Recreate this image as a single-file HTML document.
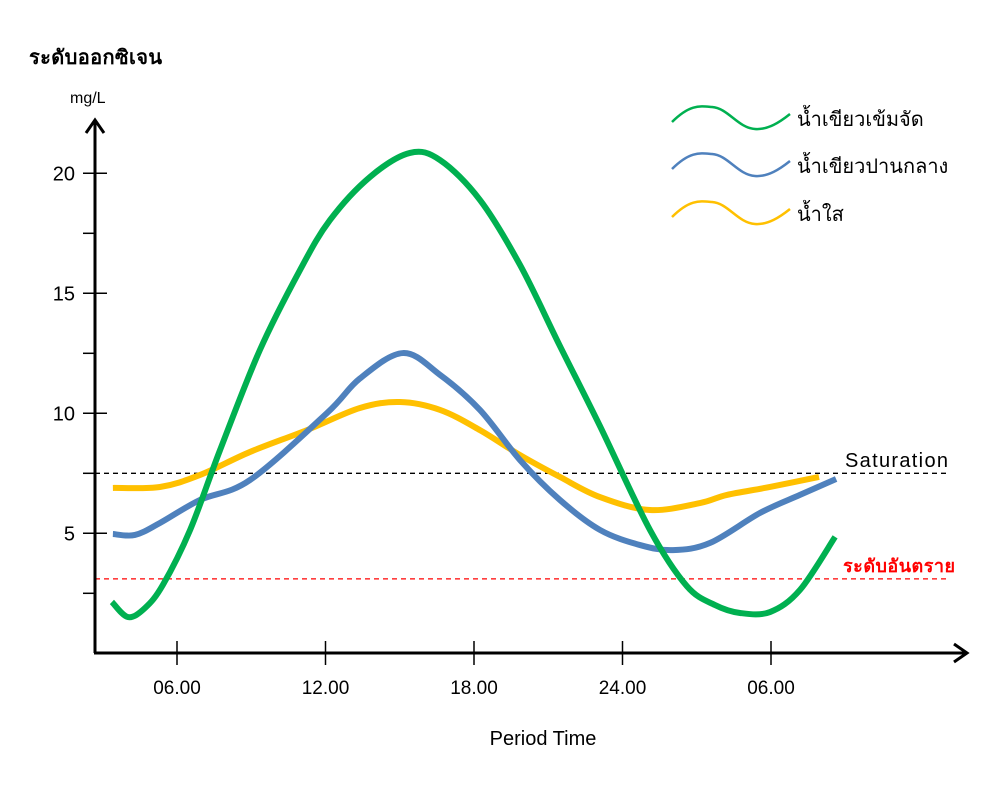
<!DOCTYPE html>
<html><head><meta charset="utf-8"><style>
html,body{margin:0;padding:0;background:#fff;}
svg{display:block;font-family:"Liberation Sans","Noto Sans CJK SC",sans-serif;}
</style></head><body>
<svg id="chart" width="1000" height="786" viewBox="0 0 1000 786">
<g id="axes"></g>
<g id="series"></g>
<g id="legend"></g>
</svg>
<script>
const yTicks = [5, 10, 15, 20];
const yMinorTicks = [2.5, 7.5, 12.5, 17.5];
const xTickHours = [6, 12, 18, 24, 30];
const xTickLabels = ["06.00", "12.00", "18.00", "24.00", "06.00"];
const greenT = [3.37,4.02,4.71,5.43,6.53,7.74,9.35,10.97,12.18,13.8,15.41,16.63,18.24,19.86,21.45,23.07,25.11,26.6,27.74,28.75,29.96,31.17,32.59];
const greenV = [2.14,1.51,1.89,2.85,5.14,8.47,12.64,15.97,18.05,19.85,20.85,20.55,18.89,16.18,12.85,9.51,5.14,2.8,2.01,1.68,1.72,2.64,4.85];
const blueT = [3.41,4.30,5.31,6.93,8.95,12.06,13.39,15.13,16.63,18.24,19.86,21.47,23.09,24.71,26.04,27.54,29.56,31.17,32.63];
const blueV = [4.97,4.93,5.43,6.39,7.22,10.01,11.45,12.51,11.6,10.14,8.05,6.39,5.14,4.51,4.30,4.60,5.85,6.6,7.26];
const yellowT = [3.41,5.31,6.93,8.95,11.25,13.39,15.01,16.63,18.24,19.86,21.47,23.09,25.11,27.13,28.22,29.96,31.94];
const yellowV = [6.89,6.93,7.43,8.39,9.3,10.22,10.47,10.14,9.3,8.26,7.35,6.51,5.97,6.26,6.6,6.93,7.35];
const saturationLevel = 7.5;
const dangerLevel = 3.1;

const NS = "http://www.w3.org/2000/svg";
function xs(t){ return 177 + (t - 6) * 24.75; }
function ys(v){ return 653.3 - v * 24; }
function mk(tag, attrs, parent, text){
  const e = document.createElementNS(NS, tag);
  for (const k in attrs) e.setAttribute(k, attrs[k]);
  if (text !== undefined) e.textContent = text;
  parent.appendChild(e);
  return e;
}
const axes = document.getElementById("axes");
const series = document.getElementById("series");
const legend = document.getElementById("legend");

let l = mk("line", {x1:95, x2:948, y1:ys(saturationLevel), y2:ys(saturationLevel), stroke:"#000", "stroke-width":1.3, "stroke-dasharray":"5,4"}, axes);


l = mk("line", {x1:95, x2:948, y1:ys(dangerLevel), y2:ys(dangerLevel), stroke:"#ff0000", "stroke-width":1.3, "stroke-dasharray":"5,4"}, axes);


let t = mk("text", {x:845, y:467, "font-size":20, fill:"#000", textLength:103}, axes, "Saturation");


t = mk("text", {x:843, y:572, "font-size":18, "font-weight":"bold", fill:"#ff0000", textLength:112}, axes, "ระดับอันตราย");



l = mk("path", {d:"M95,653 L95,122 M86,133 L95,120 L104,133", stroke:"#000", "stroke-width":3, fill:"none"}, axes);


l = mk("path", {d:"M94,653 L966,653 M954,644 L967,653 L954,662", stroke:"#000", "stroke-width":3, fill:"none"}, axes);



yTicks.forEach((v)=>{
  const tk = mk("line", {x1:83, x2:107, y1:ys(v), y2:ys(v), stroke:"#000", "stroke-width":1.5}, axes);
  
  
  const lb = mk("text", {x:75, y:ys(v)+7, "font-size":20, "text-anchor":"end"}, axes, String(v));
  
  
});
yMinorTicks.forEach((v)=>{
  const tk = mk("line", {x1:83, x2:95, y1:ys(v), y2:ys(v), stroke:"#000", "stroke-width":1.5}, axes);
  
  
});
xTickHours.forEach((h,i)=>{
  const tk = mk("line", {x1:xs(h), x2:xs(h), y1:641, y2:665, stroke:"#000", "stroke-width":1.5}, axes);
  
  
  const lb = mk("text", {x:xs(h), y:694, "font-size":19, "text-anchor":"middle"}, axes, xTickLabels[i]);
  
  
});
t = mk("text", {x:29, y:64, "font-size":20, "font-weight":"bold", textLength:133}, axes, "ระดับออกซิเจน");


t = mk("text", {x:70, y:103, "font-size":16}, axes, "mg/L");


t = mk("text", {x:543, y:745, "font-size":20, "text-anchor":"middle"}, axes, "Period Time");



function smooth(T, V){
  const p = T.map((tt,i)=>[xs(tt), ys(V[i])]);
  let d = "M"+p[0][0]+","+p[0][1];
  for (let i=0;i<p.length-1;i++){
    const p0=p[i-1]||p[i], p1=p[i], p2=p[i+1], p3=p[i+2]||p[i+1];
    const c1=[p1[0]+(p2[0]-p0[0])/6, p1[1]+(p2[1]-p0[1])/6];
    const c2=[p2[0]-(p3[0]-p1[0])/6, p2[1]-(p3[1]-p1[1])/6];
    d += " C"+c1[0]+","+c1[1]+" "+c2[0]+","+c2[1]+" "+p2[0]+","+p2[1];
  }
  return d;
}
let s = mk("path", {d:smooth(yellowT, yellowV), stroke:"#ffc000", "stroke-width":6, fill:"none"}, series);


s = mk("path", {d:smooth(blueT, blueV), stroke:"#4f81bd", "stroke-width":6, fill:"none"}, series);


s = mk("path", {d:smooth(greenT, greenV), stroke:"#00b050", "stroke-width":6, fill:"none"}, series);



const leg = [["#00b050","น้ำเขียวเข้มจัด",118,"legend-dense-green"],["#4f81bd","น้ำเขียวปานกลาง",165,"legend-medium-green"],["#ffc000","น้ำใส",213,"legend-clear"]];
leg.forEach(e=>{
  const y=e[2];
  const w = mk("path", {d:`M672,${y+4} C690,${y-14} 700,${y-12} 712,${y-11} C728,${y-10} 738,${y+10} 755,${y+11} C768,${y+12} 780,${y+4} 790,${y-4}`, stroke:e[0], "stroke-width":2.5, fill:"none"}, legend);
  
  
  const tx = mk("text", {x:797, y:y+8, "font-size":20}, legend, e[1]);
  
  
});
</script>
</body></html>
